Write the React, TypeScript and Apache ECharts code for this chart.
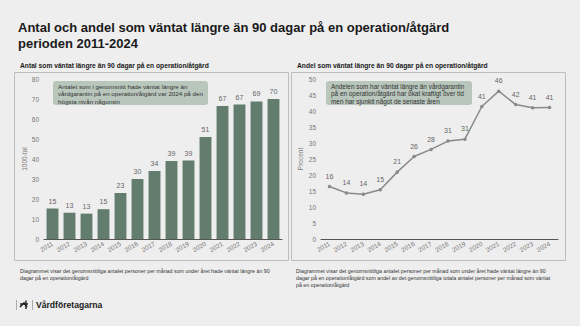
import React, { useEffect, useRef } from "react";
import * as echarts from "echarts";

const years = ["2011", "2012", "2013", "2014", "2015", "2016", "2017", "2018", "2019", "2020", "2021", "2022", "2023", "2024"];
const antal = [15.2, 13.1, 12.7, 14.9, 23.0, 30.0, 34.0, 39.0, 39.2, 51.0, 66.5, 67.2, 68.8, 70.0];
const andel = [16.4, 14.4, 14.0, 15.4, 20.9, 25.8, 28.0, 30.6, 31.2, 41.4, 46.2, 42.0, 41.0, 41.1];

const titleText = "Antal och andel som väntat längre än 90 dagar på en operation/åtgärd\nperioden 2011-2024";
const leftSub = "Antal som väntat längre än 90 dagar på en operation/åtgärd";
const rightSub = "Andel som väntat längre än 90 dagar på en operation/åtgärd";
const leftNote = "Antalet som i genomsnitt hade väntat längre än\nvårdgarantin på en operation/åtgärd var 2024 på den\nhögsta nivån någonsin";
const rightNote = "Andelen som har väntat längre än vårdgarantin\npå en operation/åtgärd har ökat kraftigt över tid\nmen har sjunkit något de senaste åren";
const leftFoot = "Diagrammet visar det genomsnittliga antalet personer per månad som under året hade väntat längre än 90\ndagar på en operation/åtgärd";
const rightFoot = "Diagrammet visar det genomsnittliga antalet personer per månad som under året hade väntat längre än 90\ndagar på en operation/åtgärd som andel av det genomsnittliga totala antalet personer per månad som väntat\npå en operation/åtgärd";

const FONT = '"Liberation Sans", Arial, sans-serif';

export default function App() {
  const ref = useRef<HTMLDivElement>(null);
  useEffect(() => {
    if (!ref.current) return;
    const chart = echarts.init(ref.current, null, { renderer: "svg" });
    const axisLabel = { color: "#777", fontSize: 6.5, fontFamily: FONT };
    chart.setOption({
      animation: false,
      backgroundColor: "#eeeeee",
      textStyle: { fontFamily: FONT },
      grid: [
        { left: 44, right: 298, top: 79, bottom: 87 },
        { left: 321, right: 22, top: 79, bottom: 87 },
      ],
      xAxis: [
        {
          type: "category", gridIndex: 0, data: years,
          axisLine: { lineStyle: { color: "#555", width: 1 } },
          axisTick: { show: false },
          axisLabel: { ...axisLabel, rotate: 30, margin: 4, interval: 0 },
        },
        {
          type: "category", gridIndex: 1, data: years,
          axisLine: { lineStyle: { color: "#555", width: 1 } },
          axisTick: { show: false },
          axisLabel: { ...axisLabel, rotate: 30, margin: 4, interval: 0 },
        },
      ],
      yAxis: [
        {
          type: "value", gridIndex: 0, min: 0, max: 80, interval: 10,
          splitLine: { show: false }, axisLine: { show: false }, axisTick: { show: false },
          axisLabel: { ...axisLabel, margin: 5 },
          name: "1000-tal", nameLocation: "middle", nameRotate: 90, nameGap: 12,
          nameTextStyle: { color: "#777", fontSize: 6.5, fontFamily: FONT },
        },
        {
          type: "value", gridIndex: 1, min: 0, max: 50, interval: 5,
          splitLine: { show: false }, axisLine: { show: false }, axisTick: { show: false },
          axisLabel: { ...axisLabel, margin: 5 },
          name: "Procent", nameLocation: "middle", nameRotate: 90, nameGap: 17,
          nameTextStyle: { color: "#777", fontSize: 6.5, fontFamily: FONT },
        },
      ],
      series: [
        {
          type: "bar", xAxisIndex: 0, yAxisIndex: 0, data: antal, barWidth: "70%",
          itemStyle: { color: "#627d6e" },
          label: {
            show: true, position: "top", distance: 4, color: "#666", fontSize: 7, fontFamily: FONT,
            formatter: (p: any) => String(Math.round(p.value)),
          },
        },
        {
          type: "line", xAxisIndex: 1, yAxisIndex: 1, data: andel,
          lineStyle: { color: "#8a8a8a", width: 1.5 },
          itemStyle: { color: "#8a8a8a" },
          symbol: "circle", symbolSize: 3.5,
          label: {
            show: true, position: "top", distance: 5, color: "#666", fontSize: 7, fontFamily: FONT,
            formatter: (p: any) => String(Math.round(p.value)),
          },
        },
      ],
      graphic: [
        { type: "text", x: 18, y: 19, style: { text: titleText, font: `bold 13px ${FONT}`, fill: "#1a1a1a", lineHeight: 16 } },
        { type: "text", x: 20, y: 62, style: { text: leftSub, font: `bold 6.7px ${FONT}`, fill: "#1a1a1a" } },
        { type: "text", x: 297, y: 62, style: { text: rightSub, font: `bold 6.7px ${FONT}`, fill: "#1a1a1a" } },
        { type: "rect", shape: { x: 14.5, y: 72.5, width: 274, height: 188 }, style: { fill: "none", stroke: "#bdbdbd", lineWidth: 1 }, z: 0 },
        { type: "rect", shape: { x: 291.5, y: 72.5, width: 274, height: 188 }, style: { fill: "none", stroke: "#bdbdbd", lineWidth: 1 }, z: 0 },
        { type: "rect", shape: { x: 53, y: 81, width: 155, height: 24, r: 3 }, style: { fill: "#b9c6bc" }, z: 10 },
        { type: "text", x: 58, y: 83, z: 11, style: { text: leftNote, font: `6.2px ${FONT}`, fill: "#333", lineHeight: 7.3 } },
        { type: "rect", shape: { x: 326, y: 81, width: 146, height: 24, r: 3 }, style: { fill: "#b9c6bc" }, z: 10 },
        { type: "text", x: 331, y: 83, z: 11, style: { text: rightNote, font: `6.4px ${FONT}`, fill: "#333", lineHeight: 7.3 } },
        { type: "text", x: 20, y: 267, style: { text: leftFoot, font: `5.3px ${FONT}`, fill: "#333", lineHeight: 7 } },
        { type: "text", x: 296, y: 267, style: { text: rightFoot, font: `5.3px ${FONT}`, fill: "#333", lineHeight: 7 } },
        { type: "line", shape: { x1: 16.5, y1: 300, x2: 16.5, y2: 310 }, style: { stroke: "#999", lineWidth: 0.8 } },
        { type: "line", shape: { x1: 32.5, y1: 300, x2: 32.5, y2: 310 }, style: { stroke: "#999", lineWidth: 0.8 } },
        { type: "polyline", shape: { points: [[20, 307], [24, 303], [27, 307]] }, style: { stroke: "#222", lineWidth: 1.6, fill: "none" } },
        { type: "line", shape: { x1: 20, y1: 304, x2: 28, y2: 304 }, style: { stroke: "#222", lineWidth: 1.4 } },
        { type: "line", shape: { x1: 26, y1: 300.5, x2: 26, y2: 309 }, style: { stroke: "#222", lineWidth: 1.4 } },
        { type: "text", x: 36, y: 300, style: { text: "Vårdföretagarna", font: `bold 8.6px ${FONT}`, fill: "#1a1a1a" } },
      ],
    });
    return () => chart.dispose();
  }, []);
  return <div ref={ref} style={{ position: "fixed", left: 0, top: 0, width: 580, height: 326 }} />;
}
